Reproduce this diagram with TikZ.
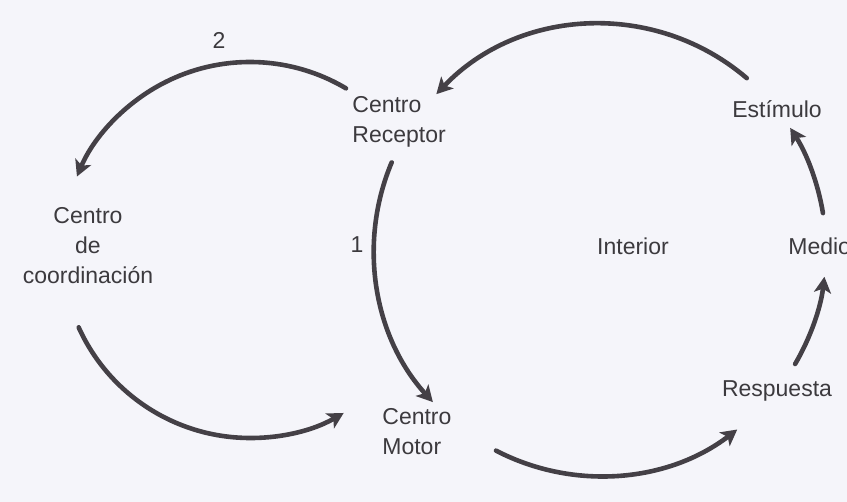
\documentclass[tikz,border=0pt]{standalone}
\usepackage{fontspec}
\setmainfont{Liberation Sans}
\usetikzlibrary{arrows.meta}
\definecolor{bg}{RGB}{245,245,250}
\definecolor{ink}{RGB}{68,64,70}
\definecolor{txt}{RGB}{60,58,62}
\tikzset{
  arr/.style={draw=ink, line width=2.3pt, line cap=round, -{Stealth[length=8pt,width=8.5pt,inset=2pt]}},
  lbl/.style={text=txt, font=\fontsize{11.5}{15}\selectfont, inner sep=0pt},
}
\begin{document}
\begin{tikzpicture}[x=0.5pt,y=0.5pt]
\fill[bg] (0,0) rectangle (847,502);
\useasboundingbox (0,0) rectangle (847,502);
% circle centres
\coordinate (cR) at (600,252);
\coordinate (cL) at (250,252);
% labels
\node[lbl] (n2) at (219,462) {2};
\node[lbl] (n1) at (357,257) {1};
\node[lbl, anchor=west, align=left] (rec) at (352,380) {Centro\\Receptor};
\node[lbl, align=center] (coord) at (88,256) {Centro\\de\\coordinación};
\node[lbl, anchor=west, align=left] (mot) at (382,70) {Centro\\Motor};
\node[lbl] (int) at (633,256) {Interior};
\node[lbl, anchor=west] (med) at (788,256) {Medio};
\node[lbl] (est) at (777,393) {Estímulo};
\node[lbl] (resp) at (777,111) {Respuesta};
% right circle arcs
\draw[arr] ([shift={(49.5:113pt)}]cR) arc[start angle=49.5, end angle=136.4, radius=113pt];
\draw[arr] ([shift={(157.2:113pt)}]cR) arc[start angle=157.2, end angle=222.3, radius=113pt];
\draw[arr] ([shift={(242.6:113pt)}]cR) arc[start angle=242.6, end angle=307.4, radius=113pt];
\draw[arr] ([shift={(329.7:113pt)}]cR) arc[start angle=329.7, end angle=353.2, radius=113pt];
\draw[arr] ([shift={(9.4:113pt)}]cR) arc[start angle=9.4, end angle=32.7, radius=113pt];
% left circle arcs
\draw[arr] ([shift={(59.3:94pt)}]cL) arc[start angle=59.3, end angle=157, radius=94pt];
\draw[arr] ([shift={(204.3:94pt)}]cL) arc[start angle=204.3, end angle=299.9, radius=94pt];
\end{tikzpicture}
\end{document}
